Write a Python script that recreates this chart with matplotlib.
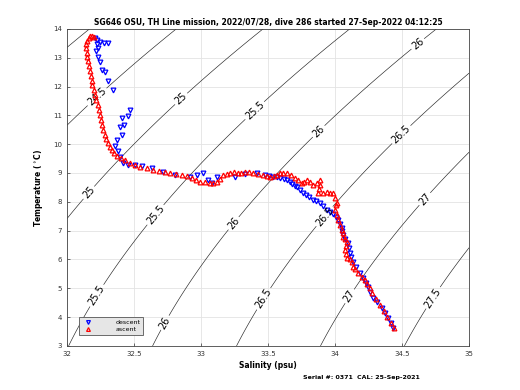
#!/usr/bin/env python3
"""T-S diagram for SG646 dive 286, with sigma-t contours."""

import numpy as np
import matplotlib
matplotlib.use("Agg")
import matplotlib.pyplot as plt

# descent (blue)
descent_salinity = [
    32.209, 32.224, 32.246, 32.276, 32.306, 32.224, 32.231, 32.216, 32.231, 32.246,
    32.261, 32.284, 32.306, 32.343, 32.470, 32.455, 32.410, 32.425, 32.396, 32.410,
    32.373, 32.358, 32.381, 32.396, 32.418, 32.455, 32.507, 32.560, 32.634, 32.716,
    32.806, 32.918, 32.970, 33.015, 33.052, 33.082, 33.119, 33.254, 33.328, 33.418,
    33.478, 33.507, 33.537, 33.567, 33.590, 33.619, 33.642, 33.664, 33.679, 33.701,
    33.716, 33.739, 33.761, 33.784, 33.806, 33.836, 33.858, 33.888, 33.910, 33.940,
    33.963, 33.985, 34.007, 34.022, 34.037, 34.052, 34.052, 34.060, 34.075, 34.097,
    34.104, 34.112, 34.119, 34.134, 34.157, 34.187, 34.209, 34.231, 34.246, 34.261,
    34.284, 34.313, 34.351, 34.373, 34.396, 34.418, 34.433,
]
descent_temp = [
    13.69, 13.62, 13.55, 13.51, 13.51, 13.48, 13.34, 13.24, 13.03, 12.85,
    12.58, 12.51, 12.20, 11.88, 11.19, 10.98, 10.91, 10.67, 10.60, 10.32,
    10.15, 9.94, 9.77, 9.56, 9.35, 9.28, 9.28, 9.25, 9.18, 9.04,
    8.93, 8.86, 8.93, 9.00, 8.76, 8.66, 8.86, 8.86, 8.97, 9.00,
    8.934, 8.899, 8.864, 8.864, 8.830, 8.795, 8.760, 8.691, 8.622, 8.552,
    8.517, 8.413, 8.309, 8.240, 8.170, 8.066, 8.032, 7.962, 7.858, 7.719,
    7.650, 7.580, 7.476, 7.372, 7.233, 7.095, 6.991, 6.852, 6.713, 6.574,
    6.401, 6.227, 6.088, 5.915, 5.741, 5.533, 5.360, 5.186, 5.047, 4.874,
    4.666, 4.527, 4.319, 4.146, 3.972, 3.799, 3.625,
]

# ascent (red)
ascent_salinity = [
    34.440, 34.418, 34.388, 34.366, 34.336, 34.306, 34.276, 34.261, 34.239, 34.224,
    34.201, 34.172, 34.149, 34.134, 34.127, 34.112, 34.090, 34.082, 34.075, 34.082,
    34.090, 34.075, 34.060, 34.060, 34.052, 34.037, 34.022, 34.015, 34.000, 34.007,
    34.015, 34.000, 33.985, 33.963, 33.940, 33.910, 33.873, 33.881, 33.888, 33.888,
    33.866, 33.836, 33.813, 33.791, 33.769, 33.754, 33.724, 33.701, 33.672, 33.642,
    33.612, 33.590, 33.567, 33.545, 33.515, 33.493, 33.463, 33.425, 33.388, 33.358,
    33.328, 33.299, 33.276, 33.246, 33.216, 33.194, 33.164, 33.142, 33.119, 33.090,
    33.067, 33.030, 32.993, 32.963, 32.933, 32.896, 32.858, 32.813, 32.769, 32.731,
    32.687, 32.642, 32.597, 32.545, 32.507, 32.470, 32.433, 32.403, 32.373, 32.351,
    32.336, 32.321, 32.306, 32.291, 32.284, 32.269, 32.261, 32.254, 32.246, 32.239,
    32.231, 32.216, 32.209, 32.201, 32.187, 32.187, 32.179, 32.172, 32.164, 32.157,
    32.149, 32.149, 32.142, 32.142, 32.149, 32.164, 32.172, 32.187, 32.201,
]
ascent_temp = [
    3.625, 3.799, 4.007, 4.215, 4.423, 4.631, 4.839, 5.013, 5.151, 5.290,
    5.394, 5.533, 5.672, 5.741, 5.915, 6.019, 6.054, 6.192, 6.331, 6.470,
    6.609, 6.713, 6.782, 6.922, 7.025, 7.199, 7.372, 7.546, 7.719, 7.893,
    7.962, 8.136, 8.309, 8.309, 8.344, 8.309, 8.309, 8.448, 8.587, 8.760,
    8.656, 8.587, 8.691, 8.760, 8.691, 8.656, 8.760, 8.830, 8.934, 9.003,
    9.003, 9.003, 8.934, 8.899, 8.864, 8.899, 8.934, 8.969, 9.003, 9.038,
    9.038, 9.003, 9.003, 9.038, 9.003, 8.969, 8.934, 8.795, 8.691, 8.656,
    8.656, 8.691, 8.691, 8.760, 8.830, 8.899, 8.934, 8.969, 9.003, 9.038,
    9.073, 9.107, 9.177, 9.211, 9.281, 9.350, 9.454, 9.524, 9.593, 9.697,
    9.801, 9.905, 10.044, 10.183, 10.322, 10.495, 10.669, 10.842, 11.016, 11.189,
    11.363, 11.536, 11.710, 11.883, 12.057, 12.196, 12.369, 12.543, 12.716, 12.890,
    13.028, 13.167, 13.341, 13.480, 13.584, 13.688, 13.757, 13.757, 13.722,
]

sigma_levels = [23.5, 24, 24.5, 25, 25.5, 26, 26.5, 27, 27.5, 28]
# where the contour labels sit (salinity, temperature)
label_spots = [
    (32.224, 11.64), (32.858, 11.54), (32.157, 8.34),
    (33.41, 11.12), (32.724, 7.30), (32.179, 4.87),
    (33.881, 10.43), (34.612, 13.51), (33.231, 7.30), (32.694, 3.90),
    (34.41, 10.74), (33.925, 7.48), (33.388, 4.87),
    (34.761, 7.72), (34.037, 4.94), (34.731, 4.67),
]

title = "SG646 OSU, TH Line mission, 2022/07/28, dive 286 started 27-Sep-2022 04:12:25"
footer = "Serial #: 0371  CAL: 25-Sep-2021"


def sigma_t(s, t):
    # UNESCO 1980 equation of state at the surface
    rho_w = (999.842594 + 6.793952e-2 * t - 9.095290e-3 * t**2 + 1.001685e-4 * t**3
             - 1.120083e-6 * t**4 + 6.536332e-9 * t**5)
    a = 0.824493 - 4.0899e-3 * t + 7.6438e-5 * t**2 - 8.2467e-7 * t**3 + 5.3875e-9 * t**4
    b = -5.72466e-3 + 1.0227e-4 * t - 1.6546e-6 * t**2
    return rho_w + a * s + b * s**1.5 + 4.8314e-4 * s**2 - 1000.0


fig = plt.figure(figsize=(5.2, 3.9), dpi=100)
ax = fig.add_axes([0.129, 0.113, 0.773, 0.813])

S, T = np.meshgrid(np.linspace(32, 35, 300), np.linspace(3, 14, 300))
cs = ax.contour(S, T, sigma_t(S, T), levels=sigma_levels, colors="#222222", linewidths=0.45)
ax.clabel(cs, fmt="%g", fontsize=7, colors="k", inline=True, inline_spacing=2,
          manual=label_spots)

ax.plot(descent_salinity, descent_temp, "v", color="blue", markerfacecolor="none",
        markersize=3.4, markeredgewidth=0.9, label="descent", zorder=3)
ax.plot(ascent_salinity, ascent_temp, "^", color="red", markerfacecolor="none",
        markersize=3.4, markeredgewidth=0.9, label="ascent", zorder=4)

ax.set_xlim(32, 35)
ax.set_ylim(3, 14)
ax.set_xticks([32, 32.5, 33, 33.5, 34, 34.5, 35])
ax.set_xticklabels(["32", "32.5", "33", "33.5", "34", "34.5", "35"])
ax.set_yticks(range(3, 15))
ax.grid(True, color="#e3e3e3", linewidth=0.6)
ax.set_axisbelow(True)
ax.tick_params(direction="in", length=2, width=0.5, labelsize=5, colors="#333333")
for sp in ax.spines.values():
    sp.set_linewidth(0.6)
    sp.set_color("#444444")

ax.set_xlabel("Salinity (psu)", fontsize=5.5, fontweight="bold", labelpad=3)
ax.set_ylabel("Temperature ($^\\circ$C)", fontsize=5.5, fontweight="bold", labelpad=6)
ax.set_title(title, fontsize=5.5, fontweight="bold", pad=3)

leg = ax.legend(loc="lower left", bbox_to_anchor=(0.022, 0.025), fontsize=4.5,
                frameon=True, fancybox=False, facecolor="#e6e6e6", edgecolor="#555555",
                handletextpad=3.5, borderpad=0.4, labelspacing=0.3, markerscale=0.8)
leg.get_frame().set_linewidth(0.6)
leg.get_frame().set_alpha(1.0)

fig.text(0.696, 0.028, footer, fontsize=4.5, fontweight="bold", ha="center")

fig.savefig("out.png", dpi=100)
